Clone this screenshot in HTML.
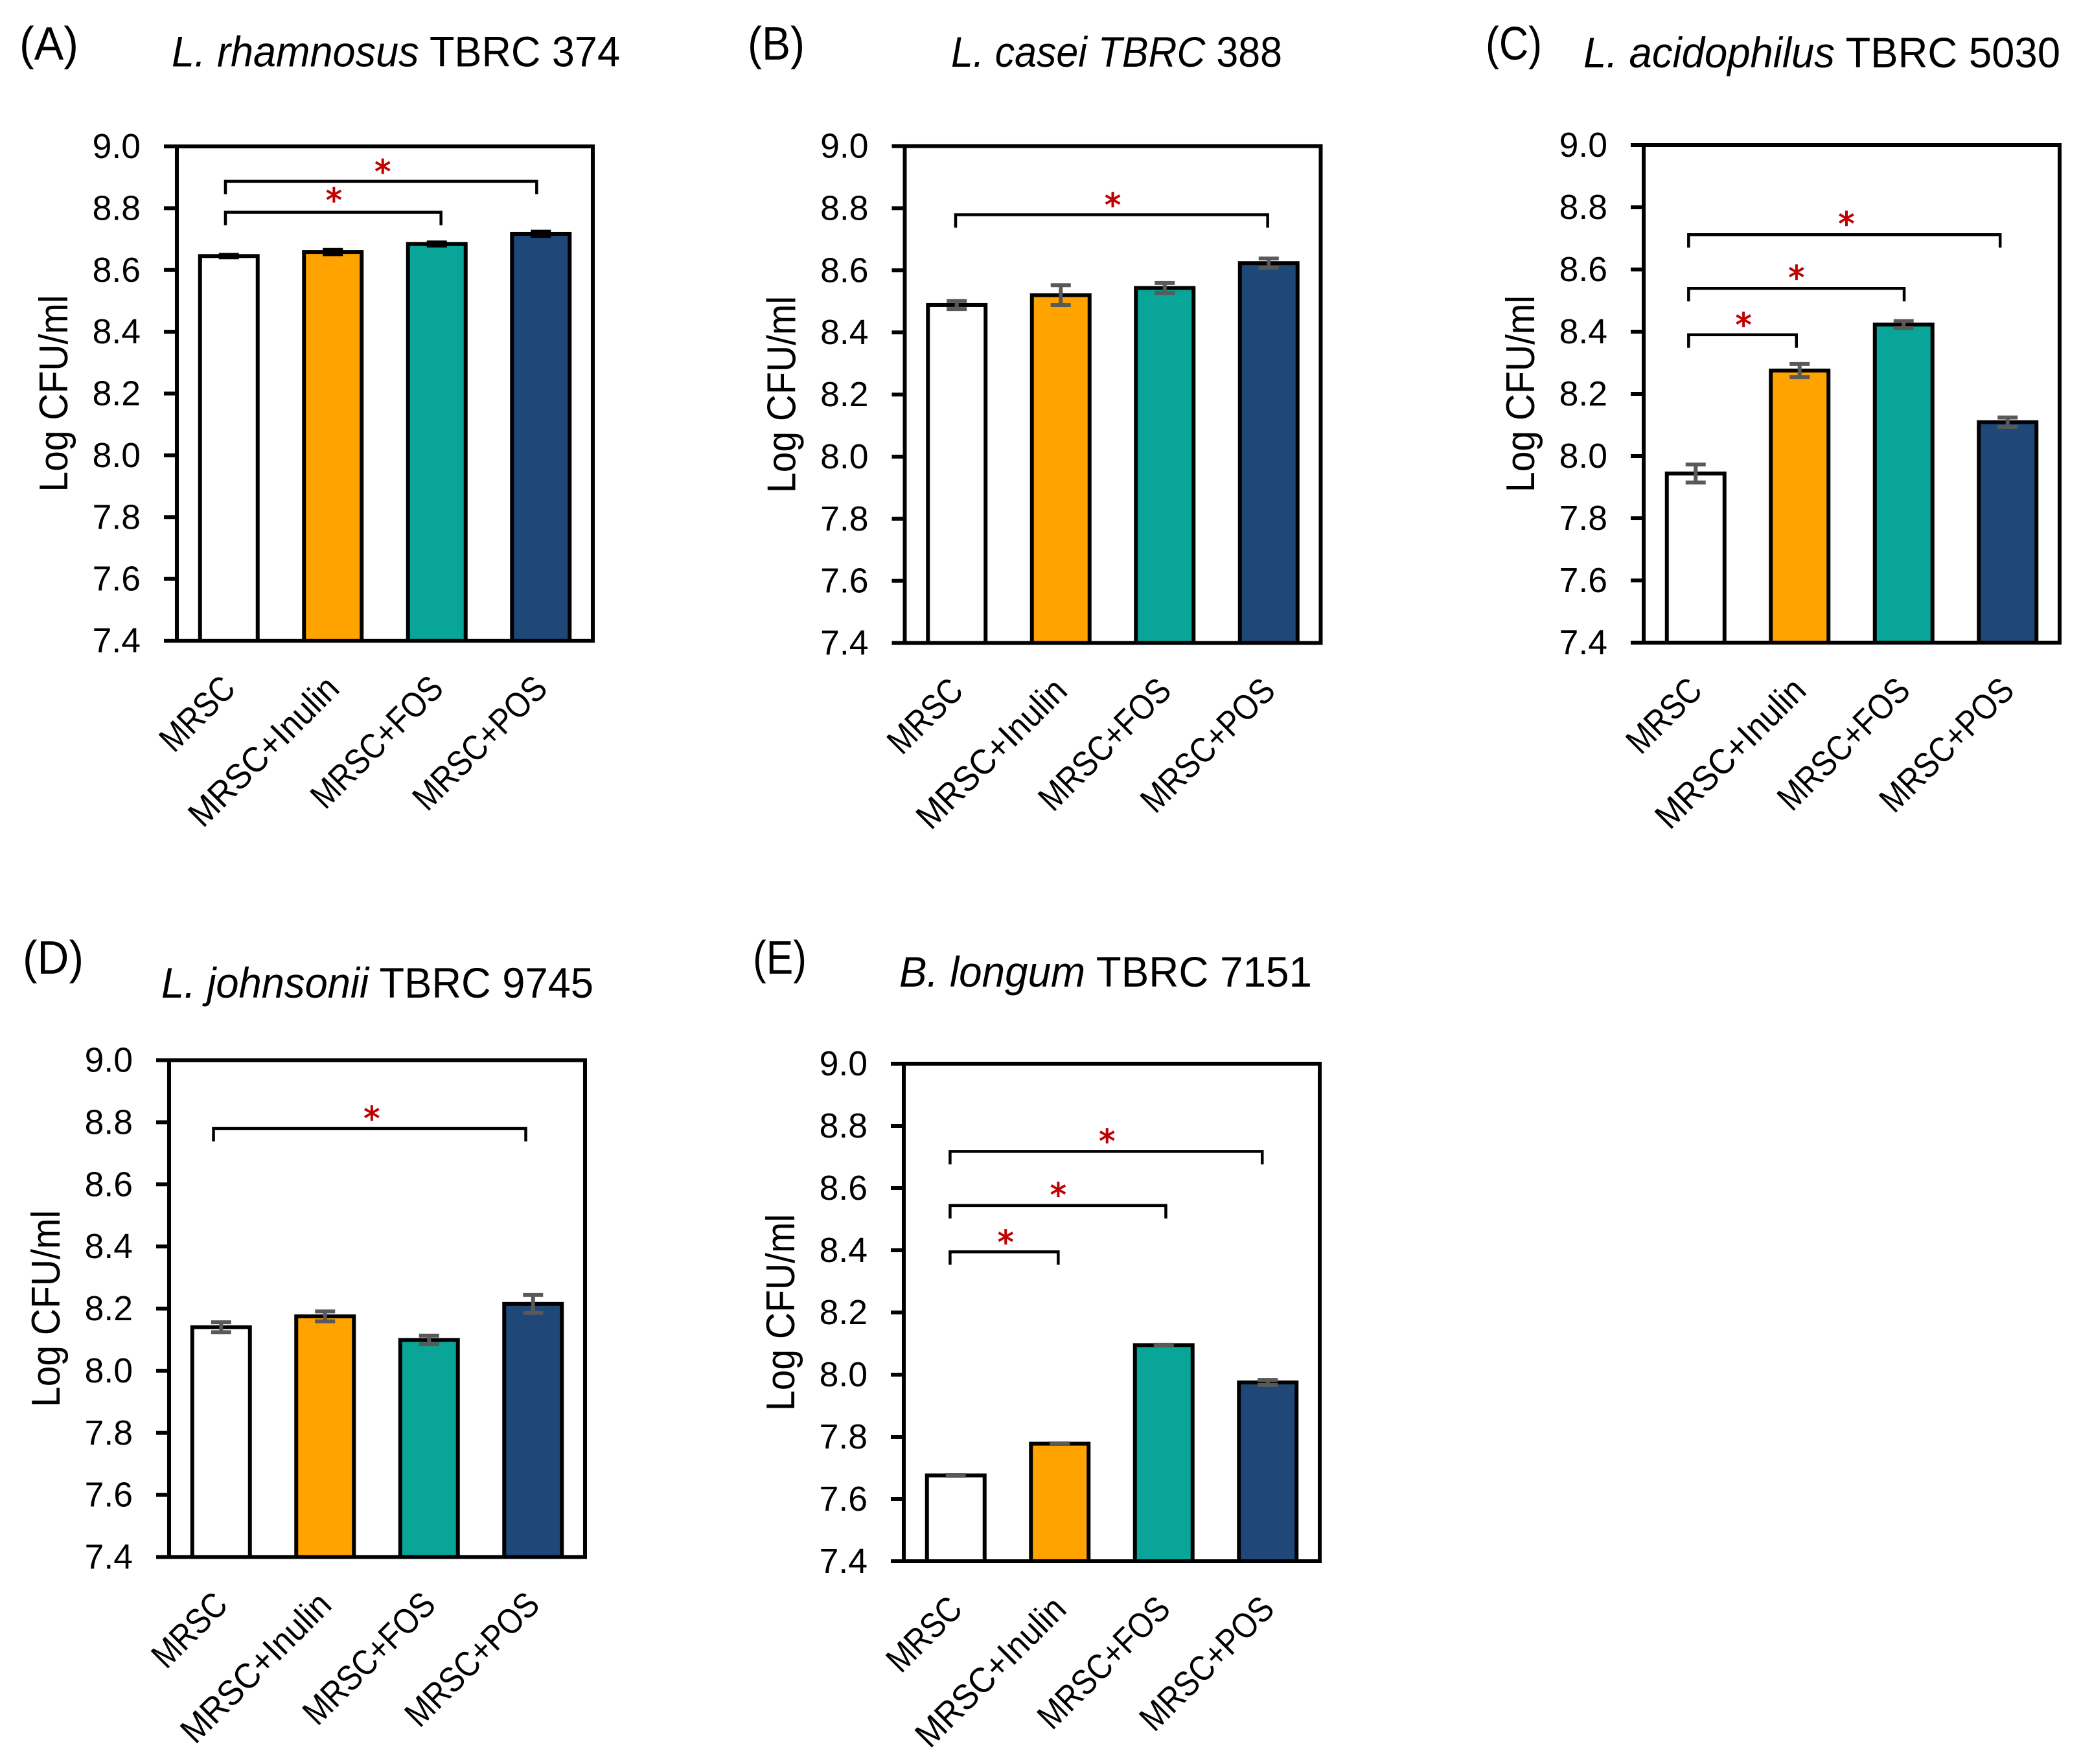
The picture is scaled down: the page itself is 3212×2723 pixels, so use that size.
<!DOCTYPE html>
<html lang="en">
<head>
<meta charset="utf-8">
<title>Growth of probiotic strains on prebiotic media</title>
<style>
html,body{margin:0;padding:0;background:#fff;}
svg{display:block;}
text{font-family:"Liberation Sans",sans-serif;fill:#000;}
</style>
</head>
<body>
<svg id="figure" xmlns="http://www.w3.org/2000/svg" width="3212" height="2723" viewBox="0 0 3212 2723">
  <rect width="3212" height="2723" fill="#ffffff"/>

  <text x="30" y="92" font-size="72" textLength="91" lengthAdjust="spacingAndGlyphs">(A)</text>
  <text x="265" y="102.5" font-size="66" textLength="692" lengthAdjust="spacingAndGlyphs"><tspan font-style="italic">L. rhamnosus</tspan> TBRC 374</text>

  <text x="1154" y="92" font-size="72" textLength="88" lengthAdjust="spacingAndGlyphs">(B)</text>
  <text x="1468" y="103" font-size="66" textLength="511" lengthAdjust="spacingAndGlyphs"><tspan font-style="italic">L. casei TBRC</tspan> 388</text>

  <text x="2293" y="92" font-size="72" textLength="87" lengthAdjust="spacingAndGlyphs">(C)</text>
  <text x="2444" y="104" font-size="66" textLength="736" lengthAdjust="spacingAndGlyphs"><tspan font-style="italic">L. acidophilus</tspan> TBRC 5030</text>

  <text x="35" y="1503" font-size="72" textLength="94" lengthAdjust="spacingAndGlyphs">(D)</text>
  <text x="249" y="1540" font-size="66" textLength="667" lengthAdjust="spacingAndGlyphs"><tspan font-style="italic">L. johnsonii</tspan> TBRC 9745</text>

  <text x="1162" y="1503" font-size="72" textLength="83" lengthAdjust="spacingAndGlyphs">(E)</text>
  <text x="1388" y="1523" font-size="66" textLength="637" lengthAdjust="spacingAndGlyphs"><tspan font-style="italic">B. longum</tspan> TBRC 7151</text>
</svg>

<script>
// ---- data ----
const categories = ['MRSC', 'MRSC+Inulin', 'MRSC+FOS', 'MRSC+POS'];
const tickValues = [7.4, 7.6, 7.8, 8.0, 8.2, 8.4, 8.6, 8.8, 9.0];
const tickLabels = ['7.4', '7.6', '7.8', '8.0', '8.2', '8.4', '8.6', '8.8', '9.0'];
const yAxisTitle = 'Log CFU/ml';

const valuesA = [8.645, 8.658, 8.684, 8.717];
const errorsA = [0.004, 0.007, 0.005, 0.007];
const valuesB = [8.488, 8.52, 8.543, 8.623];
const errorsB = [0.013, 0.032, 0.016, 0.015];
const valuesC = [7.944, 8.275, 8.423, 8.109];
const errorsC = [0.029, 0.021, 0.011, 0.015];
const valuesD = [8.14, 8.175, 8.099, 8.215];
const errorsD = [0.016, 0.016, 0.014, 0.029];
const valuesE = [7.676, 7.778, 8.095, 7.975];
const errorsE = [0.001, 0.001, 0.001, 0.008];

// significance brackets: [from, to, level, starPosition, starLevel] in axis units
const bracketsA = [[0.467, 3.46, 8.887, 1.98, 8.93], [0.467, 2.54, 8.787, 1.51, 8.837]];
const bracketsB = [[0.489, 3.49, 8.779, 2.0, 8.822]];
const bracketsC = [[0.432, 3.428, 8.712, 1.95, 8.758], [0.432, 2.505, 8.539, 1.47, 8.585], [0.432, 1.469, 8.39, 0.96, 8.433]];
const bracketsD = [[0.427, 3.43, 8.78, 1.949, 8.824]];
const bracketsE = [[0.445, 3.447, 8.718, 1.955, 8.763], [0.445, 2.52, 8.544, 1.485, 8.59], [0.445, 1.485, 8.395, 0.98, 8.438]];

// ---- layout ----
const panels = [
  {id: 'a', left: 273, top: 226, bottom: 989, values: valuesA, errors: errorsA, brackets: bracketsA, errColor: '#000000'},
  {id: 'b', left: 1396.5, top: 225.5, bottom: 992.5, values: valuesB, errors: errorsB, brackets: bracketsB, errColor: '#595959'},
  {id: 'c', left: 2537, top: 224, bottom: 992, values: valuesC, errors: errorsC, brackets: bracketsC, errColor: '#595959'},
  {id: 'd', left: 261, top: 1636.5, bottom: 2403.5, values: valuesD, errors: errorsD, brackets: bracketsD, errColor: '#595959'},
  {id: 'e', left: 1395, top: 1642, bottom: 2410, values: valuesE, errors: errorsE, brackets: bracketsE, errColor: '#595959'}
];
const plotWidth = 642;
const barWidth = 89;
const barFills = ['#ffffff', '#FFA300', '#09A598', '#1F4778'];
const labelLengths = {'MRSC': 138, 'MRSC+Inulin': 302, 'MRSC+FOS': 262, 'MRSC+POS': 266};
const yMin = 7.4;
const yMax = 9.0;

const svg = document.getElementById('figure');
const NS = 'http://www.w3.org/2000/svg';

function make(tag, attrs, parent) {
  const el = document.createElementNS(NS, tag);
  for (const k in attrs) el.setAttribute(k, attrs[k]);
  parent.appendChild(el);
  return el;
}

function drawPanel(p) {
  const pitch = plotWidth / categories.length;
  const xAt = function (u) { return p.left + u * pitch; };
  const yAt = function (v) { return p.bottom - (v - yMin) / (yMax - yMin) * (p.bottom - p.top); };

  const g = make('g', {}, svg);
  
  

  // bars
  p.values.forEach(function (v, i) {
    const cx = xAt(i + 0.5);
    const bar = make('rect', {
      x: cx - barWidth / 2, y: yAt(v), width: barWidth, height: p.bottom - yAt(v),
      fill: barFills[i], stroke: '#000', 'stroke-width': 6
    }, g);
    
    
  });

  // error bars
  p.values.forEach(function (v, i) {
    const cx = xAt(i + 0.5);
    const hi = yAt(v + p.errors[i]);
    const lo = yAt(v - p.errors[i]);
    const err = make('path', {
      d: 'M' + (cx - 15.5) + ' ' + hi + 'H' + (cx + 15.5) +
         'M' + cx + ' ' + hi + 'V' + lo +
         'M' + (cx - 15.5) + ' ' + lo + 'H' + (cx + 15.5),
      fill: 'none', stroke: p.errColor, 'stroke-width': 6
    }, g);
    
    
  });

  // frame
  const frame = make('rect', {
    x: p.left, y: p.top, width: plotWidth, height: p.bottom - p.top,
    fill: 'none', stroke: '#000', 'stroke-width': 6
  }, g);
  
  

  // y ticks and labels
  tickValues.forEach(function (v, i) {
    const y = yAt(v);
    const tick = make('line', {
      x1: p.left - 20, x2: p.left, y1: y, y2: y, stroke: '#000', 'stroke-width': 6
    }, g);
    
    

    const label = make('text', {
      x: p.left - 56, y: y + 18, 'font-size': 53.5, 'text-anchor': 'end'
    }, g);
    label.textContent = tickLabels[i];
    
    
  });

  // y axis title
  const cy = (p.top + p.bottom) / 2;
  const tx = p.left - 169;
  const yTitle = make('text', {
    x: tx, y: cy, 'font-size': 62, 'text-anchor': 'middle',
    transform: 'rotate(-90 ' + tx + ' ' + cy + ')',
    textLength: 304, lengthAdjust: 'spacingAndGlyphs'
  }, g);
  yTitle.textContent = yAxisTitle;
  
  

  // x labels
  categories.forEach(function (c, i) {
    const ax = xAt(i + 0.5) + 13;
    const ay = p.bottom + 77;
    const label = make('text', {
      x: ax, y: ay, 'font-size': 55, 'text-anchor': 'end',
      transform: 'rotate(-45 ' + ax + ' ' + ay + ')',
      textLength: labelLengths[c], lengthAdjust: 'spacingAndGlyphs'
    }, g);
    label.textContent = c;
    
    
  });

  // significance brackets
  p.brackets.forEach(function (b) {
    const y = yAt(b[2]);
    const br = make('path', {
      d: 'M' + xAt(b[0]) + ' ' + (y + 20) + 'V' + y + 'H' + xAt(b[1]) + 'V' + (y + 20),
      fill: 'none', stroke: '#000', 'stroke-width': 4.5
    }, g);
    
    

    const star = make('text', {
      x: xAt(b[3]), y: yAt(b[4]) + 23, 'font-size': 50, 'text-anchor': 'middle',
      style: 'font-family:"DejaVu Sans",sans-serif;fill:#C00000;stroke:#C00000;stroke-width:1.2'
    }, g);
    star.textContent = '*';
    
    
  });
}

panels.forEach(drawPanel);
</script>
</body>
</html>
